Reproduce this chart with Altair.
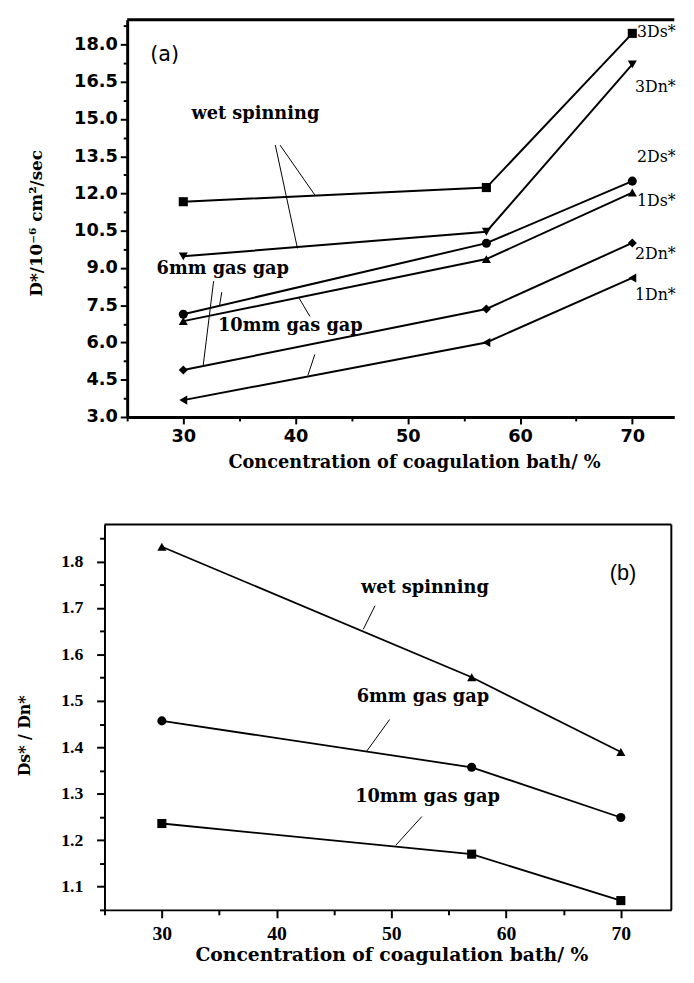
import altair as alt
import pandas as pd

# ---------------- panel (a) data ----------------
conc = [30, 57, 70]
a_series = ["3Ds*", "3Dn*", "2Ds*", "1Ds*", "2Dn*", "1Dn*"]
a_shapes = ["square", "triangle-down", "circle", "triangle-up", "diamond", "triangle-left"]
d3s = [11.67, 12.24, 18.45]
d3n = [9.47, 10.46, 17.20]
d2s = [7.14, 10.00, 12.50]
d1s = [6.86, 9.36, 12.04]
d2n = [4.89, 7.35, 10.01]
d1n = [3.68, 6.00, 8.60]
a_values = [d3s, d3n, d2s, d1s, d2n, d1n]

# series labels are anchored at their right end
a_label_x = [73.87] * 6
a_label_y = [18.49, 16.30, 13.46, 11.70, 9.58, 7.92]

a_note_text = ["wet spinning", "6mm gas gap", "10mm gas gap"]
a_note_x = [36.42, 33.52, 39.54]
a_note_y = [15.21, 8.95, 6.66]

a_lead_x1 = [38.62, 38.20, 33.43, 32.70, 40.30, 41.72]
a_lead_y1 = [13.95, 13.95, 8.03, 8.47, 7.80, 5.52]
a_lead_x2 = [41.72, 40.17, 33.23, 31.76, 41.28, 41.10]
a_lead_y2 = [11.94, 9.79, 7.48, 5.03, 7.05, 4.68]

a_tag = ["(a)"]
a_tag_x = [28.33]
a_tag_y = [17.59]

a_x_ticks = [25, 30, 35, 40, 45, 50, 55, 60, 65, 70]
a_y_ticks = [3 + 0.75 * i for i in range(22)]

# ---------------- panel (b) data ----------------
b_series = ["wet spinning", "6mm gas gap", "10mm gas gap"]
b_shapes = ["triangle-up", "circle", "square"]
wet = [1.832, 1.551, 1.390]
gap6 = [1.457, 1.357, 1.249]
gap10 = [1.236, 1.170, 1.070]
b_values = [wet, gap6, gap10]

b_note_text = ["wet spinning", "6mm gas gap", "10mm gas gap"]
b_note_x = [52.92, 52.75, 53.15]
b_note_y = [1.744, 1.5075, 1.294]

b_lead_x1 = [48.58, 49.85, 52.66]
b_lead_y1 = [1.705, 1.460, 1.251]
b_lead_x2 = [47.55, 47.83, 50.38]
b_lead_y2 = [1.654, 1.391, 1.189]

b_tag = ["(b)"]
b_tag_x = [70.19]
b_tag_y = [1.776]

b_x_ticks = [25, 30, 35, 40, 45, 50, 55, 60, 65, 70]
b_y_ticks = [round(1.05 + 0.05 * i, 2) for i in range(17)]

# ---------------- tables ----------------
a_df = pd.DataFrame(
    [{"x": c, "y": v, "sa": s} for s, vals in zip(a_series, a_values) for c, v in zip(conc, vals)]
)
a_lab_df = pd.DataFrame({"x": a_label_x, "y": a_label_y, "t": a_series})
a_note_df = pd.DataFrame({"x": a_note_x, "y": a_note_y, "t": a_note_text})
a_lead_df = pd.DataFrame({"x": a_lead_x1, "y": a_lead_y1, "x2": a_lead_x2, "y2": a_lead_y2})
a_tag_df = pd.DataFrame({"x": a_tag_x, "y": a_tag_y, "t": a_tag})

b_df = pd.DataFrame(
    [{"x": c, "y": v, "sb": s} for s, vals in zip(b_series, b_values) for c, v in zip(conc, vals)]
)
b_note_df = pd.DataFrame({"x": b_note_x, "y": b_note_y, "t": b_note_text})
b_lead_df = pd.DataFrame({"x": b_lead_x1, "y": b_lead_y1, "x2": b_lead_x2, "y2": b_lead_y2})
b_tag_df = pd.DataFrame({"x": b_tag_x, "y": b_tag_y, "t": b_tag})

# ---------------- panel (a) ----------------
AW, AH = 555, 403
ax_a_x = alt.Axis(
    values=a_x_ticks,
    labelExpr="datum.value % 10 === 0 ? datum.value : ''",
    tickSize={"condition": {"test": "datum.value % 10 === 0", "value": 7}, "value": 4},
    tickWidth=2, tickColor="black", domainColor="black", domainWidth=3,
    labelFont="DejaVu Sans", labelFontWeight="bold", labelFontSize=18, labelColor="black",
    labelPadding=4, grid=False,
    title="Concentration of coagulation bath/ %",
    titleFont="DejaVu Serif", titleFontWeight="bold", titleFontSize=18, titleColor="black",
    titlePadding=8, titleX=291,
)
ax_a_y = alt.Axis(
    values=a_y_ticks,
    labelExpr="datum.value % 1.5 === 0 ? format(datum.value, '.1f') : ''",
    tickSize={"condition": {"test": "datum.value % 1.5 === 0", "value": 7}, "value": 4},
    tickWidth=2, tickColor="black", domainColor="black", domainWidth=3,
    labelFont="DejaVu Sans", labelFontWeight="bold", labelFontSize=18, labelColor="black",
    labelPadding=3, grid=False,
    title="D*/10⁻⁶ cm²/sec",
    titleFont="DejaVu Serif", titleFontWeight="bold", titleFontSize=17, titleColor="black",
    titlePadding=28, titleY=206,
)
xa = alt.X("x:Q", scale=alt.Scale(domain=[25, 73.74], nice=False, zero=False), axis=ax_a_x)
ya = alt.Y("y:Q", scale=alt.Scale(domain=[3, 19], nice=False, zero=False), axis=ax_a_y)

a_lines = alt.Chart(a_df).mark_line(color="black", strokeWidth=2).encode(x=xa, y=ya, detail="sa:N")
a_points = alt.Chart(a_df).mark_point(filled=True, color="black", size=85, opacity=1).encode(
    x=xa, y=ya,
    shape=alt.Shape("sa:N", scale=alt.Scale(domain=a_series, range=a_shapes), legend=None),
)
a_labels = alt.Chart(a_lab_df).mark_text(
    font="DejaVu Serif", fontSize=16, align="right", baseline="middle", color="black"
).encode(x=xa, y=ya, text="t:N")
a_notes = alt.Chart(a_note_df).mark_text(
    font="DejaVu Serif", fontWeight="bold", fontSize=18, align="center", baseline="middle", color="black"
).encode(x=xa, y=ya, text="t:N")
a_tagm = alt.Chart(a_tag_df).mark_text(
    font="DejaVu Sans", fontSize=21, align="center", baseline="middle", color="black"
).encode(x=xa, y=ya, text="t:N")
a_leads = alt.Chart(a_lead_df).mark_rule(color="black", strokeWidth=1).encode(
    x=xa, y=ya, x2=alt.X2("x2"), y2=alt.Y2("y2")
)
a_border = alt.Chart(alt.Data(values=[{}])).mark_rule(color="black", strokeWidth=3).encode(
    x=alt.value(0), x2=alt.value(AW), y=alt.value(0)
)
top = alt.layer(a_lines, a_points, a_labels, a_notes, a_tagm, a_leads, a_border).properties(
    width=AW, height=AH
)

# ---------------- panel (b) ----------------
BW, BH, BOFF = 552, 391, 23
ax_b_x = alt.Axis(
    values=b_x_ticks,
    labelExpr="datum.value % 10 === 0 ? datum.value : ''",
    tickSize={"condition": {"test": "datum.value % 10 === 0", "value": 8}, "value": 5},
    tickWidth=2, tickColor="black", domainColor="black", domainWidth=2,
    labelFont="Liberation Serif", labelFontWeight="bold", labelFontSize=20, labelColor="black",
    labelPadding=6, grid=False,
    title="Concentration of coagulation bath/ %",
    titleFont="DejaVu Serif", titleFontWeight="bold", titleFontSize=19, titleColor="black",
    titlePadding=2, titleX=268,
)
ax_b_y = alt.Axis(
    values=b_y_ticks,
    labelExpr="round(datum.value * 100) % 10 === 0 ? format(datum.value, '.1f') : ''",
    tickSize={"condition": {"test": "round(datum.value * 100) % 10 === 0", "value": 8}, "value": 5},
    tickWidth=2, tickColor="black", domainColor="black", domainWidth=2,
    labelFont="Liberation Serif", labelFontWeight="bold", labelFontSize=18, labelColor="black",
    labelPadding=14, grid=False, offset=BOFF,
    title="Ds* / Dn*",
    titleFont="DejaVu Serif", titleFontWeight="bold", titleFontSize=16, titleColor="black",
    titlePadding=29, titleY=214,
)
xb = alt.X("x:Q", scale=alt.Scale(domain=[25, 74.4], range=[-BOFF, BW], nice=False, zero=False), axis=ax_b_x)
yb = alt.Y("y:Q", scale=alt.Scale(domain=[1.05, 1.88], nice=False, zero=False), axis=ax_b_y)

b_lines = alt.Chart(b_df).mark_line(color="black", strokeWidth=1.8).encode(x=xb, y=yb, detail="sb:N")
b_points = alt.Chart(b_df).mark_point(filled=True, color="black", size=85, opacity=1).encode(
    x=xb, y=yb,
    shape=alt.Shape("sb:N", scale=alt.Scale(domain=b_series, range=b_shapes), legend=None),
)
b_notes = alt.Chart(b_note_df).mark_text(
    font="DejaVu Serif", fontWeight="bold", fontSize=18, align="center", baseline="middle", color="black"
).encode(x=xb, y=yb, text="t:N")
b_tagm = alt.Chart(b_tag_df).mark_text(
    font="Liberation Sans", fontSize=22, align="center", baseline="middle", color="black"
).encode(x=xb, y=yb, text="t:N")
b_leads = alt.Chart(b_lead_df).mark_rule(color="black", strokeWidth=1).encode(
    x=xb, y=yb, x2=alt.X2("x2"), y2=alt.Y2("y2")
)
b_top = alt.Chart(alt.Data(values=[{}])).mark_rule(color="black", strokeWidth=2).encode(
    x=alt.value(-BOFF), x2=alt.value(BW), y=alt.value(0)
)
b_right = alt.Chart(alt.Data(values=[{}])).mark_rule(color="black", strokeWidth=2).encode(
    x=alt.value(BW), y=alt.value(0), y2=alt.value(BH)
)
bottom = alt.layer(b_lines, b_points, b_notes, b_tagm, b_leads, b_top, b_right).properties(
    width=BW, height=BH
)

chart = (
    alt.vconcat(top, bottom, spacing=53)
    .resolve_scale(shape="independent")
    .properties(padding={"left": 16, "top": 11, "right": 0, "bottom": 0}, background="white")
    .configure_view(strokeWidth=0)
)

chart.save("out.html", embed_options={"renderer": "svg", "actions": False})
